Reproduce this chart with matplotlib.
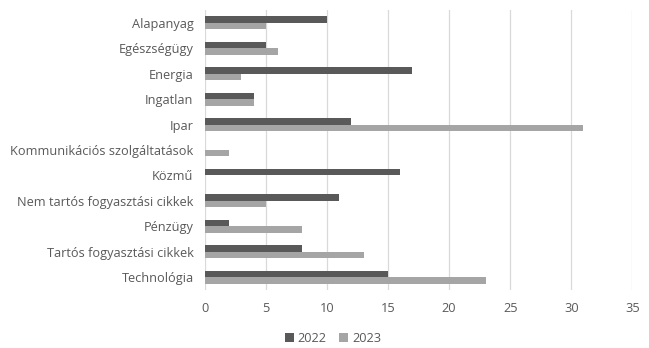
import numpy as np
import matplotlib
matplotlib.use("Agg")
import matplotlib.pyplot as plt

categories = ["Alapanyag", "Egészségügy", "Energia", "Ingatlan", "Ipar",
              "Kommunikációs szolgáltatások", "Közmű", "Nem tartós fogyasztási cikkek",
              "Pénzügy", "Tartós fogyasztási cikkek", "Technológia"]
v2022 = [10, 5, 17, 4, 12, 0, 16, 11, 2, 8, 15]
v2023 = [5, 6, 3, 4, 31, 2, 0, 5, 8, 13, 23]
series_labels = ["2022", "2023"]

plt.rcParams['font.family'] = ['Open Sans', 'DejaVu Sans']
text_color = "#595959"

fig = plt.figure(figsize=(6.49, 3.48), dpi=100)
ax = fig.add_axes([204.7 / 649, 1 - 290 / 348, (632.3 - 204.7) / 649, 280 / 348])

y = np.arange(len(categories))
h = 0.255
ax.barh(y - h / 2, v2022, height=h, color="#595959", label=series_labels[0], zorder=3)
ax.barh(y + h / 2, v2023, height=h, color="#a5a5a5", label=series_labels[1], zorder=3)

ax.set_xlim(0, 35)
ax.set_ylim(len(categories) - 0.5, -0.5)
ax.set_xticks(np.arange(0, 36, 5))
ax.set_yticks(y)
ax.set_yticklabels(categories)
ax.grid(axis="x", color="#d9d9d9", linewidth=0.9, zorder=0)
for s in ax.spines.values():
    s.set_visible(False)
ax.tick_params(axis="both", length=0, colors=text_color, labelsize=9.2)
ax.tick_params(axis="x", pad=9)
ax.tick_params(axis="y", pad=8)

fig.legend(loc="center", bbox_to_anchor=(333 / 649, 1 - 338 / 348), ncol=2,
           frameon=False, fontsize=9.2, handlelength=0.7, handleheight=0.7,
           handletextpad=0.3, columnspacing=1.0, labelcolor=text_color)

fig.savefig("out.png", dpi=100)
